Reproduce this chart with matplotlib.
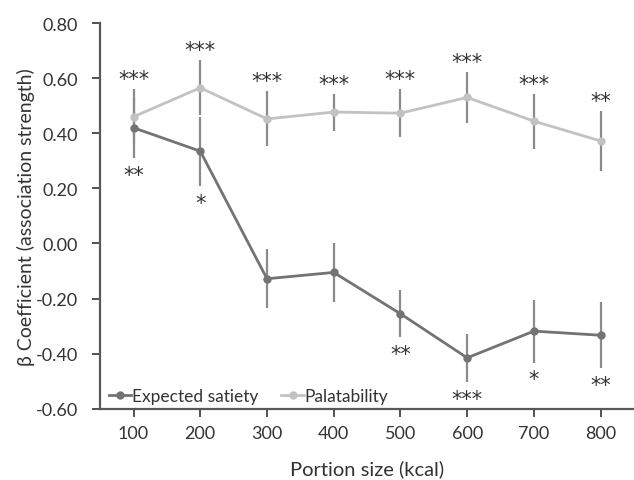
import matplotlib
matplotlib.use("Agg")
import matplotlib.pyplot as plt
import numpy as np

portion = ["100", "200", "300", "400", "500", "600", "700", "800"]
satiety = [0.42, 0.335, -0.128, -0.105, -0.255, -0.415, -0.318, -0.333]
satiety_err = [0.11, 0.125, 0.107, 0.107, 0.086, 0.088, 0.114, 0.12]
satiety_sig = ["**", "*", "", "", "**", "***", "*", "**"]
palat = [0.46, 0.565, 0.452, 0.477, 0.473, 0.53, 0.444, 0.372]
palat_err = [0.10, 0.10, 0.10, 0.067, 0.088, 0.093, 0.10, 0.11]
palat_sig = ["***", "***", "***", "***", "***", "***", "***", "**"]
yticks = [-0.6, -0.4, -0.2, 0.0, 0.2, 0.4, 0.6, 0.8]

plt.rcParams['font.family'] = ['Lato', 'DejaVu Sans']

fig = plt.figure(figsize=(6.34, 4.81), dpi=100)
ax = fig.add_axes([0.158, 0.148, 0.842, 0.802])

x = np.arange(len(portion))
c_sat = "#737373"
c_pal = "#c2c2c2"
c_err = "#8a8a8a"

ax.errorbar(x, satiety, yerr=satiety_err, fmt="none", ecolor=c_err, elinewidth=1.6, zorder=2)
ax.errorbar(x, palat, yerr=palat_err, fmt="none", ecolor=c_err, elinewidth=1.6, zorder=2)
ax.plot(x, satiety, color=c_sat, lw=2, marker="o", ms=5, label="Expected satiety", zorder=3)
ax.plot(x, palat, color=c_pal, lw=2, marker="o", ms=5, label="Palatability", zorder=3)

for xi, v, e, s in zip(x, palat, palat_err, palat_sig):
    if s:
        ax.text(xi, v + e, s, ha="center", va="bottom", fontsize=15,
                color="#333333", family="DejaVu Sans")
for xi, v, e, s in zip(x, satiety, satiety_err, satiety_sig):
    if s:
        ax.text(xi, v - e - 0.025, s, ha="center", va="top", fontsize=15,
                color="#333333", family="DejaVu Sans")

ax.set_xlim(-0.5, len(portion) - 0.5)
ax.set_ylim(-0.6, 0.8)
ax.set_xticks(x)
ax.set_xticklabels(portion)
ax.set_yticks(yticks)
ax.set_yticklabels([f"{t:.2f}" for t in yticks])
ax.tick_params(axis="both", labelsize=13, colors="#333333", length=6, width=1.2, direction="out")
ax.tick_params(axis="x", pad=6)
ax.tick_params(axis="y", pad=10)
for sp in ["top", "right"]:
    ax.spines[sp].set_visible(False)
for sp in ["left", "bottom"]:
    ax.spines[sp].set_color("#595959")
    ax.spines[sp].set_linewidth(1.6)

ax.set_xlabel("Portion size (kcal)", fontsize=14.5, color="#333333", labelpad=13)
ax.set_ylabel("β Coefficient (association strength)", fontsize=14, color="#333333")
ax.yaxis.set_label_coords(-0.122, 0.5)

leg = ax.legend(loc="lower left", ncol=2, frameon=False, fontsize=12.5, handlelength=1.3,
                handletextpad=0.05, columnspacing=1.3, borderaxespad=0.1,
                bbox_to_anchor=(0.0, -0.01))
for t in leg.get_texts():
    t.set_color("#333333")

fig.savefig("out.png", dpi=100)
